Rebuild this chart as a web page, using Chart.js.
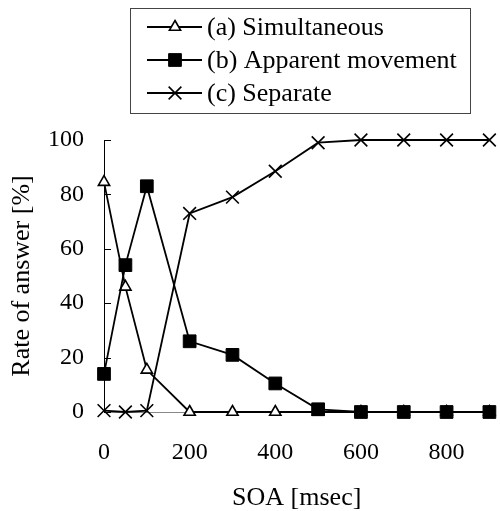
<!DOCTYPE html>
<html>
<head>
<meta charset="utf-8">
<script src="https://cdn.jsdelivr.net/npm/chart.js@4"></script>
<style>
  html, body { margin: 0; padding: 0; background: #fff; }
  #wrap { width: 500px; height: 511px; }
</style>
</head>
<body>
<div id="wrap"><canvas id="soaChart"></canvas></div>
<script>
// SOA values (msec) and answer rates (%)
const soaValues = [0, 50, 100, 200, 300, 400, 500, 600, 700, 800, 900];
const simultaneous = [84.5, 46, 15.5, 0, 0, 0, 0, 0, 0, 0, 0];
const apparentMovement = [14, 54, 83, 26, 21, 10.5, 1, 0, 0, 0, 0];
const separate = [0.5, 0, 0.5, 73, 79, 88.5, 99, 100, 100, 100, 100];
const seriesLabels = ['(a) Simultaneous', '(b) Apparent movement', '(c) Separate'];
const yTicks = [0, 20, 40, 60, 80, 100];

const serif = "'Liberation Serif', 'Times New Roman', serif";

function toPoints(values) {
    return soaValues.map((x, i) => ({ x: x, y: values[i] }));
}

// Boxed legend in the top right, drawn on the canvas
const boxLegend = {
    id: 'boxLegend',
    afterDraw(chart) {
        const ctx = chart.ctx;
        ctx.save();
        ctx.strokeStyle = '#444';
        ctx.lineWidth = 1;
        ctx.strokeRect(130.5, 8.5, 340, 105);
        const rows = [27, 60, 93];
        chart.data.datasets.forEach((ds, i) => {
            const y = rows[i];
            ctx.strokeStyle = '#000';
            ctx.lineWidth = ds.borderWidth;
            ctx.beginPath();
            ctx.moveTo(147, y);
            ctx.lineTo(202, y);
            ctx.stroke();
            ctx.fillStyle = ds.pointBackgroundColor;
            ctx.strokeStyle = '#000';
            ctx.lineWidth = ds.pointBorderWidth;
            Chart.helpers.drawPoint(ctx, {
                pointStyle: ds.pointStyle,
                radius: ds.pointRadius,
                rotation: 0,
                borderWidth: ds.pointBorderWidth
            }, 175, y);
            ctx.fillStyle = '#000';
            ctx.font = '26px ' + serif;
            ctx.textBaseline = 'middle';
            ctx.textAlign = 'left';
            ctx.fillText(ds.label, 207, y + 1);
        });
        ctx.restore();
    }
};

// Short tick marks on the inside of the y axis
const innerTicks = {
    id: 'innerTicks',
    afterDatasetsDraw(chart) {
        const ctx = chart.ctx;
        const ys = chart.scales.y;
        ctx.save();
        ctx.strokeStyle = '#000';
        ctx.lineWidth = 1;
        yTicks.forEach(v => {
            const py = Math.round(ys.getPixelForValue(v)) + 0.5;
            ctx.beginPath();
            ctx.moveTo(ys.right, py);
            ctx.lineTo(ys.right + 7, py);
            ctx.stroke();
        });
        ctx.restore();
    }
};

const ctx = document.getElementById('soaChart').getContext('2d');
new Chart(ctx, {
    type: 'line',
    data: {
        datasets: [
            {
                label: seriesLabels[0],
                data: toPoints(simultaneous),
                borderColor: '#000',
                borderWidth: 1.8,
                pointStyle: 'triangle',
                pointRadius: 6.5,
                pointBackgroundColor: '#fff',
                pointBorderColor: '#000',
                pointBorderWidth: 1.6,
                order: 1
            },
            {
                label: seriesLabels[1],
                data: toPoints(apparentMovement),
                borderColor: '#000',
                borderWidth: 1.8,
                pointStyle: 'rect',
                pointRadius: 9,
                pointBackgroundColor: '#000',
                pointBorderColor: '#000',
                pointBorderWidth: 1,
                order: 0
            },
            {
                label: seriesLabels[2],
                data: toPoints(separate),
                borderColor: '#000',
                borderWidth: 1.8,
                pointStyle: 'crossRot',
                pointRadius: 9,
                pointBackgroundColor: '#000',
                pointBorderColor: '#000',
                pointBorderWidth: 1.6,
                order: 2
            }
        ]
    },
    plugins: [boxLegend, innerTicks],
    options: {
        responsive: true,
        maintainAspectRatio: false,
        animation: false,
        clip: false,
        layout: { padding: { top: 140, right: 9, left: 0, bottom: 0 } },
        plugins: {
            legend: { display: false },
            tooltip: { enabled: false }
        },
        scales: {
            x: {
                type: 'linear',
                min: 0,
                max: 900,
                afterFit: scale => { scale.height = 99; },
                grid: { drawOnChartArea: false, drawTicks: false },
                border: { color: '#888', width: 1 },
                ticks: {
                    stepSize: 200,
                    includeBounds: false,
                    padding: 26,
                    color: '#000',
                    font: { family: serif, size: 24 }
                },
                title: {
                    display: true,
                    text: 'SOA [msec]',
                    color: '#000',
                    font: { family: serif, size: 26, lineHeight: 1.0 },
                    padding: { top: 0, bottom: 0 }
                }
            },
            y: {
                min: 0,
                max: 100,
                afterFit: scale => { scale.width = 104; },
                grid: { drawOnChartArea: false, drawTicks: false },
                border: { color: '#000', width: 1 },
                ticks: {
                    stepSize: 20,
                    padding: 20,
                    color: '#000',
                    font: { family: serif, size: 24 }
                },
                title: {
                    display: true,
                    text: 'Rate of answer [%]',
                    color: '#000',
                    font: { family: serif, size: 26 },
                    padding: { top: 7, bottom: 0 }
                }
            }
        }
    }
});
</script>
</body>
</html>
